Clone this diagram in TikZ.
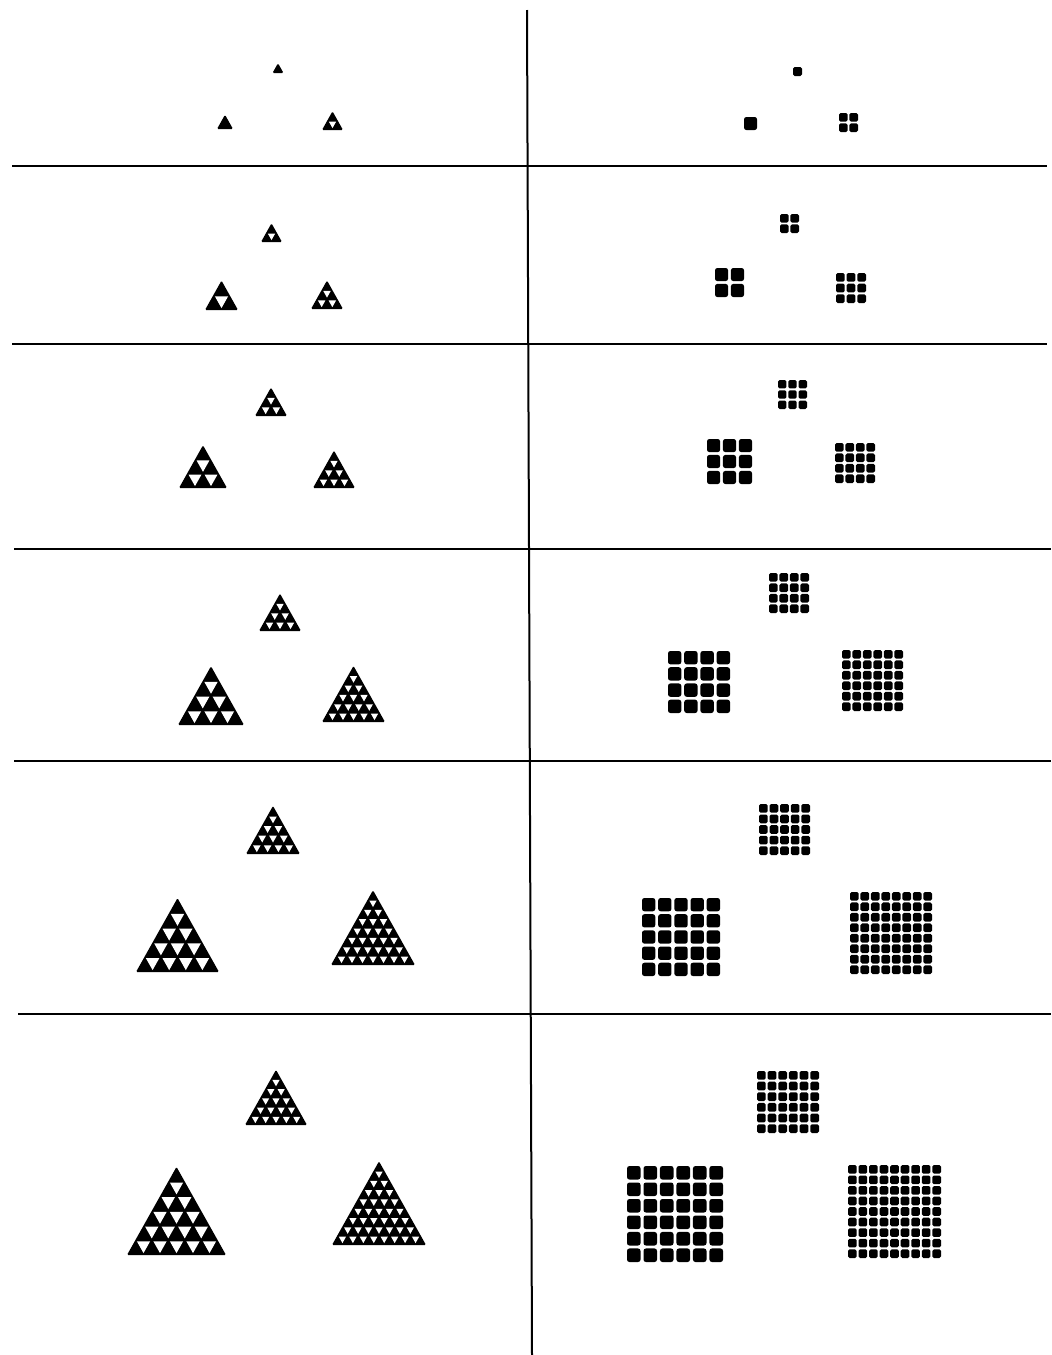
\documentclass[tikz,border=0pt]{standalone}
\usepackage{tikz}
\tikzset{
  rule/.style={line width=1pt, black},
  trishape/.style={fill=black, rounded corners=0.6pt},
  hole/.style={fill=white},
}
% triangle of side-subdivision n: centre x, base y, width, n
\newcommand\tritile[4]{%
  \pgfmathsetmacro\trH{0.89*#3}%
  \pgfmathsetmacro\trTop{#2-\trH}%
  \fill[trishape] ({#1-#3/2},#2) -- ({#1+#3/2},#2) -- (#1,\trTop) -- cycle;
  \pgfmathsetmacro\trS{#3/#4}%
  \pgfmathsetmacro\trHs{\trH/#4}%
  \pgfmathsetmacro\trF{max(0.3,1-3.2/\trS)}%
  \pgfmathtruncatemacro\trN{#4-1}%
  \ifnum#4>1
    \foreach \r in {1,...,\trN}{%
      \foreach \j in {1,...,\r}{%
        \pgfmathsetmacro\xc{#1-\r*\trS/2+(\j-0.5)*\trS}%
        \pgfmathsetmacro\yc{\trTop+\r*\trHs+\trHs/3}%
        \fill[hole] ({\xc-\trF*\trS/2},{\yc-\trF*\trHs/3}) --
                    ({\xc+\trF*\trS/2},{\yc-\trF*\trHs/3}) --
                    (\xc,{\yc+2*\trF*\trHs/3}) -- cycle;
      }%
    }%
  \fi
}
% square grid: left x, top y, width, n
\newcommand\sqtile[4]{%
  \pgfmathsetmacro\sqA{#3/(#4+0.22*(#4-1))}%
  \pgfmathsetmacro\sqG{0.22*\sqA}%
  \pgfmathsetmacro\sqR{0.09*\sqA}%
  \foreach \i in {1,...,#4}{%
    \foreach \k in {1,...,#4}{%
      \fill[black, rounded corners=\sqR pt]
        ({#1+(\i-1)*(\sqA+\sqG)},{#2+(\k-1)*(\sqA+\sqG)})
        rectangle +(\sqA,\sqA);
    }%
  }%
}
\begin{document}
\begin{tikzpicture}[x=0.5pt,y=-0.5pt]
\useasboundingbox (0,0) rectangle (1051,1355);
\fill[white] (0,0) rectangle (1051,1355);

% grid lines
\draw[rule] (527,10) -- (532,1355);
\draw[rule] (12,166) -- (1047,166);
\draw[rule] (12,344) -- (1047,344);
\draw[rule] (14,549) -- (1051,549);
\draw[rule] (14,761) -- (1051,761);
\draw[rule] (18,1014) -- (1051,1014);

% triangles (centre x, base y, width, n)
\tritile{278}{73}{11}{1}
\tritile{225}{129}{16}{1}
\tritile{332.5}{130}{21}{2}

\tritile{271.5}{242}{21}{2}
\tritile{221.5}{310}{33}{2}
\tritile{327}{309}{32}{3}

\tritile{271}{416}{32}{3}
\tritile{203}{488}{48}{3}
\tritile{334}{488}{42}{4}

\tritile{280}{631}{42}{4}
\tritile{211}{725}{66}{4}
\tritile{353.5}{722}{63}{6}

\tritile{273}{854}{54}{5}
\tritile{177.5}{972}{83}{5}
\tritile{373}{965}{84}{8}

\tritile{276}{1125}{62}{6}
\tritile{176.5}{1255}{99}{6}
\tritile{379}{1245}{94}{9}

% squares (left x, top y, width, n)
\sqtile{793}{67}{9}{1}
\sqtile{744}{117}{13}{1}
\sqtile{839}{113}{19}{2}

\sqtile{780}{214}{19}{2}
\sqtile{715}{268}{29}{2}
\sqtile{836}{273}{30}{3}

\sqtile{778}{380}{29}{3}
\sqtile{707}{439}{45}{3}
\sqtile{835}{443}{40}{4}

\sqtile{769}{573}{40}{4}
\sqtile{668}{651}{62}{4}
\sqtile{842}{650}{61}{6}

\sqtile{759}{804}{51}{5}
\sqtile{642}{898}{78}{5}
\sqtile{850}{892}{82}{8}

\sqtile{757}{1071}{62}{6}
\sqtile{627}{1166}{96}{6}
\sqtile{848}{1165}{93}{9}
\end{tikzpicture}
\end{document}
